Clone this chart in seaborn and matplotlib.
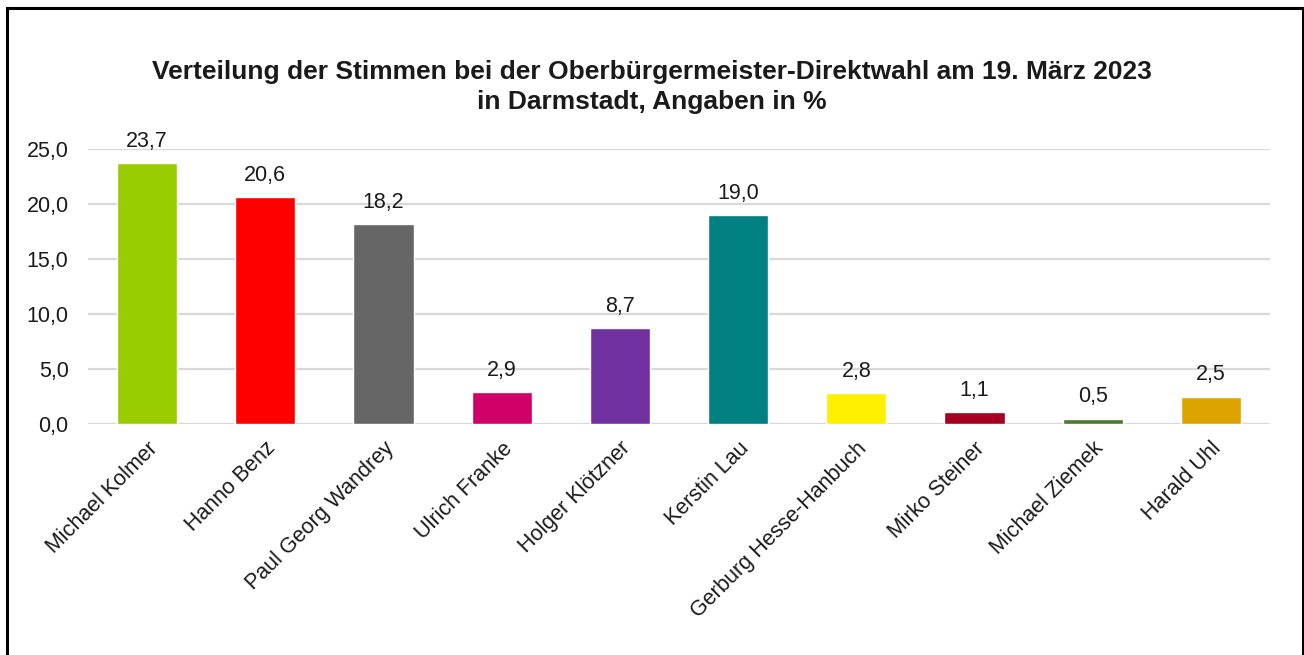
import matplotlib
matplotlib.use('Agg')
import matplotlib.pyplot as plt
import seaborn as sns
import pandas as pd
from matplotlib.patches import Rectangle

# Data: OB-Direktwahl Darmstadt, 19. März 2023
kandidaten = ['Michael Kolmer', 'Hanno Benz', 'Paul Georg Wandrey', 'Ulrich Franke',
              'Holger Klötzner', 'Kerstin Lau', 'Gerburg Hesse-Hanbuch',
              'Mirko Steiner', 'Michael Ziemek', 'Harald Uhl']
anteile = [23.7, 20.6, 18.2, 2.9, 8.7, 19.0, 2.8, 1.1, 0.5, 2.5]
farben = ['#99CC00', '#FF0000', '#666666', '#D10069', '#7030A0',
          '#008080', '#FFF000', '#A50021', '#4A7A2E', '#DDA300']
y_ticks = [0, 5, 10, 15, 20, 25]

df = pd.DataFrame({'Kandidat': kandidaten, 'Anteil': anteile})

sns.set_theme(style='white')
plt.rcParams['font.family'] = ['Liberation Sans', 'DejaVu Sans']

fs = 15.5
fig = plt.figure(figsize=(13.04, 6.55), dpi=100)
ax = fig.add_axes([88 / 1304, 231 / 655, 1182 / 1304, 275 / 655])

sns.barplot(data=df, x='Kandidat', y='Anteil', hue='Kandidat', palette=farben,
            legend=False, width=0.51, saturation=1, ax=ax)

# value labels with German decimal comma
for i, v in enumerate(anteile):
    ax.annotate(f'{v:.1f}'.replace('.', ','), (i, v), xytext=(0, 8),
                textcoords='offset points', ha='center', va='bottom',
                fontsize=fs, color='#1a1a1a')

ax.set_ylim(0, 25)
ax.set_xlim(-0.5, len(kandidaten) - 0.5)
ax.set_yticks(y_ticks)
ax.set_yticklabels([f'{t:.1f}'.replace('.', ',') for t in y_ticks], fontsize=fs, color='#1a1a1a')
ax.yaxis.grid(True, color='#D9D9D9', linewidth=1.6)
ax.set_axisbelow(True)
for s in ax.spines.values():
    s.set_visible(False)
ax.tick_params(axis='y', length=0, pad=14)
ax.tick_params(axis='x', length=0, pad=10)
ax.set_xlabel('')
ax.set_ylabel('')
plt.setp(ax.get_xticklabels(), rotation=45, ha='right', rotation_mode='anchor',
         fontsize=fs, color='#1a1a1a')

fig.suptitle('Verteilung der Stimmen bei der Oberbürgermeister-Direktwahl am 19. März 2023\n'
             'in Darmstadt, Angaben in %',
             y=1 - 60 / 655, va='top', fontsize=19, fontweight='bold',
             color='#1a1a1a', linespacing=1.3)

# outer frame like the original chart box
fig.add_artist(Rectangle((6.5 / 1304, -0.05), (1302.5 - 6.5) / 1304, 1.05 - 8.5 / 655,
                         transform=fig.transFigure, fill=False, edgecolor='black',
                         linewidth=2.2, clip_on=False))

fig.savefig('out.png', dpi=100)
